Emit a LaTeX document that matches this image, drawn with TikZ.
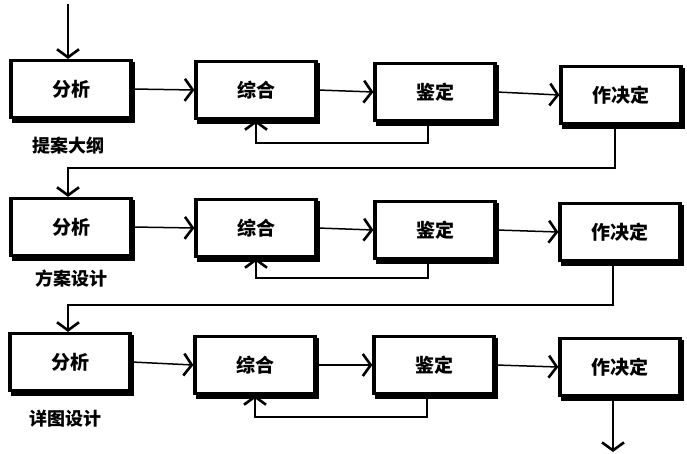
\documentclass[tikz,border=0pt]{standalone}
\usepackage{fontspec}
\newfontfamily\cjk{Noto Sans CJK SC}
\usetikzlibrary{arrows.meta,shadows}
\begin{document}
\begin{tikzpicture}[x=1pt,y=-1pt,
  box/.style={draw,line width=3.2pt,fill=white,minimum width=120pt,minimum height=57pt,
    inner sep=0pt,font=\cjk\bfseries\fontsize{19}{22}\selectfont,
    copy shadow={shadow xshift=2.5pt,shadow yshift=-3.5pt}},
  lbl/.style={font=\cjk\bfseries\fontsize{18}{22}\selectfont,inner sep=0pt},
  arr/.style={line width=1.5pt,-{Straight Barb[length=8pt,width=22pt,line width=2.6pt]}},
  ln/.style={line width=1.5pt}]
\useasboundingbox (0,0) rectangle (687,454);
% row 1
\node[box] (fx1) at (71,89) {分析};
\node[box] (zh1) at (256,90) {综合};
\node[box] (jd1) at (435,92) {鉴定};
\node[box] (jc1) at (621,95) {作决定};
\node[lbl] (l1) at (68,146) {提案大纲};
% row 2
\node[box] (fx2) at (71,227) {分析};
\node[box] (zh2) at (256,228) {综合};
\node[box] (jd2) at (435,230) {鉴定};
\node[box] (jc2) at (620,232) {作决定};
\node[lbl] (l2) at (71,279) {方案设计};
% row 3
\node[box] (fx3) at (70,362) {分析};
\node[box] (zh3) at (255,365) {综合};
\node[box] (jd3) at (434,365) {鉴定};
\node[box] (jc3) at (620,367) {作决定};
\node[lbl] (l3) at (65,419) {详图设计};
% coordinates
\coordinate (in) at (68,4);
\coordinate (out) at (613,452);
\coordinate (f1) at (340,143);
\coordinate (f2) at (340,278);
\coordinate (f3) at (340,417);
\coordinate (r12) at (340,168);
\coordinate (r23) at (340,305);
% connectors
\draw[arr] (in) -- ([xshift=-3pt]fx1.north);
\foreach \r in {1,2,3}{
  \draw[arr] (fx\r.east) -- (zh\r.west);
  \draw[arr] (zh\r.east) -- (jd\r.west);
  \draw[arr] (jd\r.east) -- (jc\r.west);
  \draw[arr] ([xshift=-7pt]jd\r.south) |- (f\r) -| (zh\r.south);
}
\draw[arr] ([xshift=-6pt]jc1.south) |- (r12) -| ([xshift=-3pt]fx2.north);
\draw[arr] ([xshift=-7pt]jc2.south) |- (r23) -| ([xshift=-2pt]fx3.north);
\draw[arr] ([xshift=-7pt]jc3.south) -- (out);
\end{tikzpicture}
\end{document}
